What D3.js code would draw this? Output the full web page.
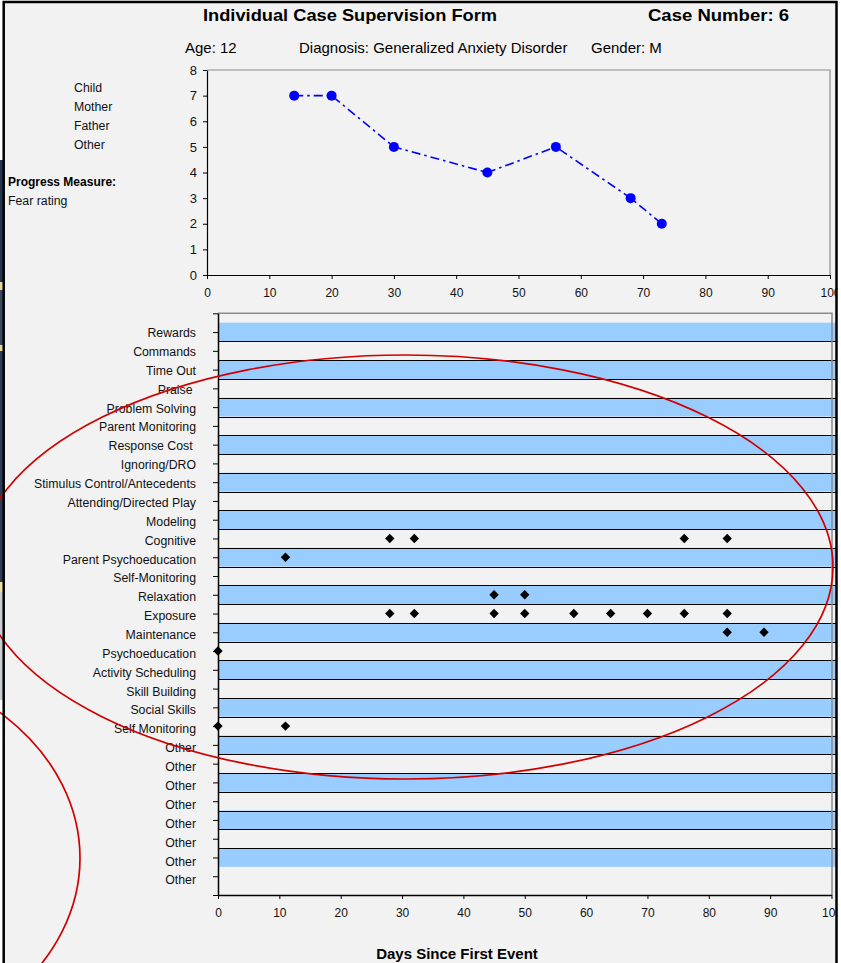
<!DOCTYPE html>
<html>
<head>
<meta charset="utf-8">
<script src="https://cdn.jsdelivr.net/npm/d3@7"></script>
<style>
  html, body { margin: 0; padding: 0; background: #ffffff; }
  svg { display: block; font-family: "Liberation Sans", Arial, Helvetica, sans-serif; }
</style>
</head>
<body>
<svg id="chart" width="841" height="963"></svg>
<script>
// ---------- case details ----------
const formTitle = "Individual Case Supervision Form";
const caseNumber = 6;
const age = 12;
const diagnosis = "Generalized Anxiety Disorder";
const gender = "M";
const informants = ["Child", "Mother", "Father", "Other"];
const progressMeasure = "Fear rating";

// ---------- progress measure (fear rating by day) ----------
const ratingDays = [14, 20, 30, 45, 56, 68, 73];
const fearRatings = [7, 7, 5, 4, 5, 3, 2];
const ratingTicks = [0, 1, 2, 3, 4, 5, 6, 7, 8];
const dayTicks = [0, 10, 20, 30, 40, 50, 60, 70, 80, 90, 100];

// ---------- treatment components (top to bottom) ----------
const treatmentCategories = [
  "Rewards", "Commands", "Time Out", "Praise ", "Problem Solving",
  "Parent Monitoring", "Response Cost ", "Ignoring/DRO",
  "Stimulus Control/Antecedents", "Attending/Directed Play", "Modeling",
  "Cognitive", "Parent Psychoeducation", "Self-Monitoring", "Relaxation",
  "Exposure", "Maintenance", "Psychoeducation", "Activity Scheduling",
  "Skill Building", "Social Skills", "Self Monitoring",
  "Other", "Other", "Other", "Other", "Other", "Other", "Other", "Other"
];

// sessions in which each component was delivered (days since first event)
const eventCategories = ["Cognitive", "Parent Psychoeducation", "Relaxation", "Exposure",
                         "Maintenance", "Psychoeducation", "Self Monitoring"];
const eventDays = [
  [28, 32, 76, 83],
  [11],
  [45, 50],
  [28, 32, 45, 50, 58, 64, 70, 76, 83],
  [83, 89],
  [0],
  [0, 11]
];

const xAxisTitle = "Days Since First Event";

// ---------- drawing ----------
const svg = d3.select("#chart");
const W = 841, H = 963;
const FONT = "\"Liberation Sans\", Arial, Helvetica, sans-serif";

// sheet background
svg.append("rect").attr("x", 0).attr("y", 0).attr("width", W).attr("height", H).attr("fill", "#ffffff");
svg.append("rect").attr("x", 4).attr("y", 2).attr("width", 832).attr("height", H).attr("fill", "#f2f2f2");

// left margin strip
const strip = svg.append("g");
[[160, 282, "#26364f"], [282, 290, "#e6d89a"], [290, 345, "#3a4960"], [345, 351, "#e6d89a"],
 [351, 582, "#2e3d55"], [582, 592, "#ece0a2"], [592, 700, "#c9cdd3"]].forEach(([a, b, c]) => {
  strip.append("rect").attr("x", 0).attr("y", a).attr("width", 3).attr("height", b - a).attr("fill", c);
});

// header text
svg.append("text").attr("x", 203).attr("y", 21)
  .attr("font-size", 17).attr("font-weight", "bold").attr("fill", "#000")
  .attr("textLength", 294).attr("lengthAdjust", "spacingAndGlyphs")
  .text(formTitle);
svg.append("text").attr("x", 648).attr("y", 21)
  .attr("font-size", 17).attr("font-weight", "bold").attr("fill", "#000")
  .attr("textLength", 141).attr("lengthAdjust", "spacingAndGlyphs")
  .text("Case Number: " + caseNumber);

const infoY = 53;
svg.append("text").attr("x", 185).attr("y", infoY).attr("font-size", 15).text("Age: " + age);
svg.append("text").attr("x", 299).attr("y", infoY).attr("font-size", 15).text("Diagnosis: " + diagnosis);
svg.append("text").attr("x", 591).attr("y", infoY).attr("font-size", 15).text("Gender: " + gender);

informants.forEach((d, i) => {
  svg.append("text").attr("x", 74).attr("y", 92 + i * 19).attr("font-size", 12.3).attr("fill", "#111").text(d);
});
svg.append("text").attr("x", 8).attr("y", 186).attr("font-size", 12).attr("font-weight", "bold").text("Progress Measure:");
svg.append("text").attr("x", 8).attr("y", 205).attr("font-size", 12.3).attr("fill", "#111").text(progressMeasure);

// ---------- progress chart ----------
const x1 = d3.scaleLinear().domain([0, 100]).range([207, 830]);
const y1 = d3.scaleLinear().domain([0, 8]).range([275, 70]);

const progressG = svg.append("g");
progressG.append("path")
  .attr("d", `M${x1(0)},${y1(8)}H${x1(100)}V${y1(0)}`)
  .attr("fill", "none").attr("stroke", "#8c8c8c").attr("stroke-width", 1.2);

const gx1 = progressG.append("g").attr("transform", `translate(0,${y1(0)})`)
  .call(d3.axisBottom(x1).tickValues(dayTicks).tickSize(4).tickSizeOuter(0).tickPadding(9.5));
const gy1 = progressG.append("g").attr("transform", `translate(${x1(0)},0)`)
  .call(d3.axisLeft(y1).tickValues(ratingTicks).tickSize(4).tickSizeOuter(0).tickPadding(6));
[gx1, gy1].forEach(g => {
  g.attr("font-family", FONT);
  g.select(".domain").attr("stroke", "#000").attr("stroke-width", 1.2);
  g.selectAll(".tick line").attr("stroke", "#000");
  g.selectAll(".tick text").attr("fill", "#111");
});
gx1.selectAll(".tick text").attr("font-size", 12);
gy1.selectAll(".tick text").attr("font-size", 13);

const ratingPts = ratingDays.map((d, i) => [x1(d), y1(fearRatings[i])]);
progressG.append("path")
  .attr("d", d3.line()(ratingPts))
  .attr("fill", "none").attr("stroke", "#0000ff").attr("stroke-width", 1.6)
  .attr("stroke-dasharray", "9,4,2.5,4");
progressG.selectAll("circle.rating").data(ratingPts).join("circle")
  .attr("class", "rating")
  .attr("cx", d => d[0]).attr("cy", d => d[1]).attr("r", 5)
  .attr("fill", "#0000ff");

// ---------- treatment component chart ----------
const nRows = treatmentCategories.length;          // 30 rows, value 30 at the top
const x2 = d3.scaleLinear().domain([0, 100]).range([218, 831.5]);
const y2 = d3.scaleLinear().domain([0, nRows + 1]).range([895, 313.3]);
const rowValue = i => nRows - i;
const bandRight = 836;

const componentG = svg.append("g");
// alternating shaded rows
treatmentCategories.forEach((c, i) => {
  const v = rowValue(i);
  if (v % 2 === 0) {
    componentG.append("rect")
      .attr("x", x2(0)).attr("y", y2(v + 0.5))
      .attr("width", bandRight - x2(0)).attr("height", y2(v - 0.5) - y2(v + 0.5))
      .attr("fill", "#99ccff");
  }
});
// row separators
d3.range(2, nRows).forEach(v => {
  const yy = Math.round(y2(v + 0.5)) + 0.5;
  componentG.append("line")
    .attr("x1", x2(0)).attr("x2", bandRight).attr("y1", yy).attr("y2", yy)
    .attr("stroke", "#000").attr("stroke-width", 1);
});

componentG.append("path")
  .attr("d", `M${x2(0)},${y2(nRows + 1)}H${832}V${y2(0)}`)
  .attr("fill", "none").attr("stroke", "#8c8c8c").attr("stroke-width", 1.5);

const gx2 = componentG.append("g").attr("transform", `translate(0,${y2(0)})`)
  .call(d3.axisBottom(x2).tickValues(dayTicks).tickSize(4).tickSizeOuter(0).tickPadding(9.5));
const gy2 = componentG.append("g").attr("transform", `translate(${x2(0)},0)`)
  .call(d3.axisLeft(y2).tickValues(d3.range(0, nRows + 2)).tickSize(5).tickSizeOuter(0).tickPadding(17)
    .tickFormat(v => (v >= 1 && v <= nRows) ? treatmentCategories[nRows - v] : ""));
[gx2, gy2].forEach(g => {
  g.attr("font-family", FONT);
  g.select(".domain").attr("stroke", "#000").attr("stroke-width", 1.5);
  g.selectAll(".tick line").attr("stroke", "#000");
  g.selectAll(".tick text").attr("fill", "#111");
});
gx2.selectAll(".tick text").attr("font-size", 12);
// category labels sit on a slightly wider pitch than the ticks
gy2.selectAll(".tick text").attr("font-size", 12.3)
  .attr("y", v => (nRows - v) * 0.11 + 0.5)
  .attr("xml:space", "preserve").style("white-space", "pre");

// delivered components
const diamond = d3.symbol(d3.symbolSquare, 44)();
const events = [];
eventCategories.forEach((c, k) => {
  const i = treatmentCategories.indexOf(c);
  eventDays[k].forEach(d => events.push({ day: d, v: rowValue(i) }));
});
componentG.selectAll("path.event").data(events).join("path")
  .attr("class", "event")
  .attr("d", diamond)
  .attr("transform", d => `translate(${x2(d.day)},${y2(d.v)}) rotate(45)`)
  .attr("fill", "#000");

svg.append("text").attr("x", 457).attr("y", 959)
  .attr("text-anchor", "middle").attr("font-size", 15).attr("font-weight", "bold")
  .text(xAxisTitle);

// hand-drawn red annotations
svg.append("ellipse").attr("cx", 405).attr("cy", 567).attr("rx", 428).attr("ry", 212)
  .attr("fill", "none").attr("stroke", "#d00000").attr("stroke-width", 1.7);
svg.append("ellipse").attr("cx", -175).attr("cy", 858).attr("rx", 255).attr("ry", 200)
  .attr("fill", "none").attr("stroke", "#d00000").attr("stroke-width", 1.7);

// sheet border
svg.append("rect").attr("x", 837.5).attr("y", 0).attr("width", W - 837.5).attr("height", H).attr("fill", "#ffffff");
svg.append("path")
  .attr("d", `M3.7,${H + 5}V2H836.5V${H + 5}`)
  .attr("fill", "none").attr("stroke", "#000").attr("stroke-width", 2.5);
</script>
</body>
</html>
